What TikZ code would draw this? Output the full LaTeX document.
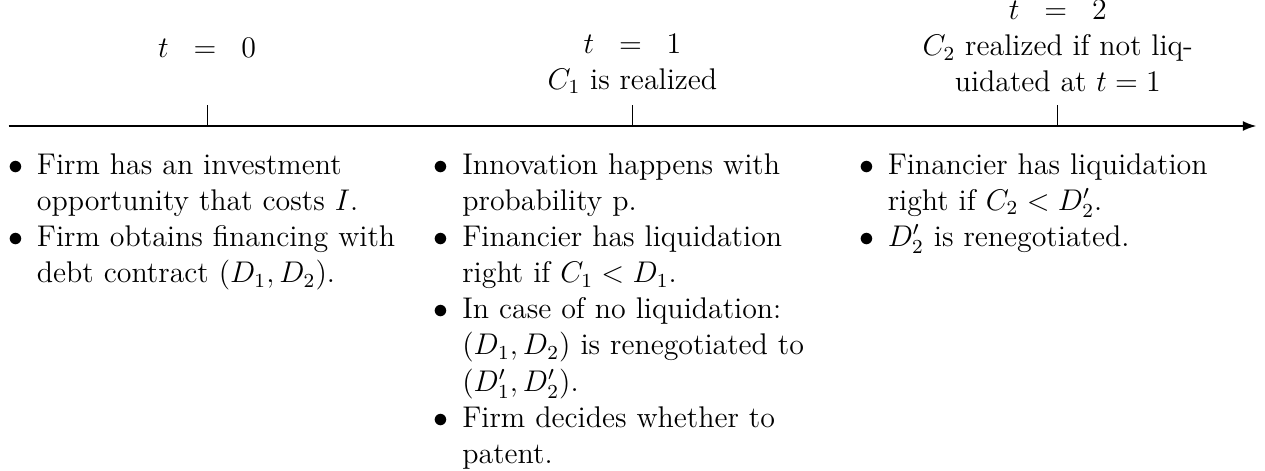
\documentclass[12pt,tikz,border=0pt]{standalone}
\usepackage{amsmath, amssymb}
\usepackage{tikz}
\usetikzlibrary{positioning,calc,arrows.meta}

\newlength{\bulind}
\setlength{\bulind}{11.5pt}
\newcommand{\bitem}[1]{\noindent\hangindent=\bulind\hangafter=1%
  \makebox[\bulind][l]{$\bullet$}#1\par}
\newcommand{\teq}[1]{$t\mskip10mu=\mskip10mu#1$}

\begin{document}
\begin{tikzpicture}[
    axisline/.style={line width=0.7pt, -{Latex[length=5.4pt, width=4pt]}},
    tickline/.style={line width=0.4pt},
    hdr/.style={align=center, anchor=base, inner sep=0pt},
    events/.style={text width=5.5cm, align=left, anchor=base west, inner sep=0pt}
  ]
    \useasboundingbox (-2.92,-4.866) rectangle (14.922,1.777);
    % time axis
    \coordinate (AXL) at (-2.8,0);
    \coordinate (AXR) at (14.8,0);
    \coordinate (T0) at (0,0);
    \coordinate (T1) at (6,0);
    \coordinate (T2) at (12,0);
    \draw[axisline] (AXL) -- (AXR);
    \draw[tickline] (T0) -- ([yshift=0.3cm]T0);
    \draw[tickline] (T1) -- ([yshift=0.3cm]T1);
    \draw[tickline] (T2) -- ([yshift=0.3cm]T2);
    % dates
    \node[hdr] (H0) at (0,0.973) {\teq{0}};
    \node[hdr] (H1) at (6,0.52) {\teq{1}\\$C_1$ is realized};
    \node[hdr] (H2) at (12,0.48)
      {\teq{2}\\$C_2$ realized if not liq-\\uidated at $t = 1$};
    % events
    \node[events] (E0) at (-2.81,-0.68)
      {\bitem{Firm has an investment opportunity that costs $I$.}
       \bitem{Firm obtains financing with debt contract $(D_1, D_2)$.}};
    \node[events] (E1) at (3.19,-0.68)
      {\bitem{Innovation happens with probability p.}
       \bitem{Financier has liquidation right if $C_1 < D_1$.}
       \bitem{In case of no liquidation: $(D_1, D_2)$ is renegotiated to $(D'_1, D'_2)$.}
       \bitem{Firm decides whether to patent.}};
    \node[events] (E2) at (9.19,-0.68)
      {\bitem{Financier has liquidation right if $C_2 < D'_2$.}
       \bitem{$D'_2$ is renegotiated.}};
  \end{tikzpicture}
\end{document}
